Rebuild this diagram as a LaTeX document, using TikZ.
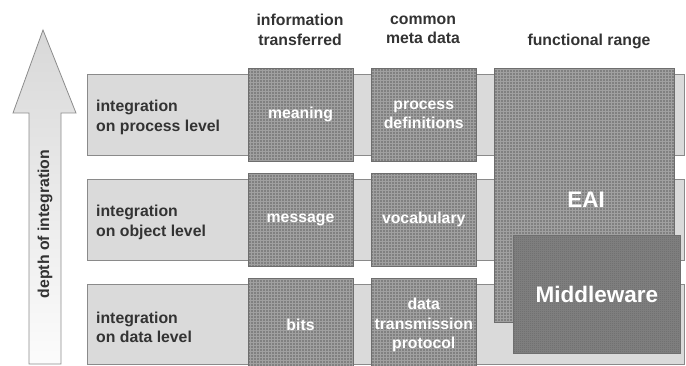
\documentclass[tikz,border=0pt]{standalone}
\usepackage{fontspec}
\setmainfont{Liberation Sans}
\definecolor{rowfill}{HTML}{DADADA}
\definecolor{rowline}{HTML}{8A8A8A}
\definecolor{hatchbase}{HTML}{808080}
\definecolor{hatchgrid}{HTML}{A0A0A0}
\definecolor{hatchline}{HTML}{6E6E6E}
\definecolor{mwbase}{HTML}{717171}
\definecolor{mwgrid}{HTML}{7E7E7E}
\definecolor{textdark}{HTML}{333333}
\definecolor{arrowtop}{HTML}{D8D8D8}
\definecolor{arrowbot}{HTML}{FCFCFC}
\definecolor{arrowline}{HTML}{8C8C8C}
\tikzset{
  rowbox/.style={draw=rowline, fill=rowfill, line width=0.8pt, inner sep=0pt, minimum width=597.5pt},
  rowlabel/.style={anchor=west, align=left, text=textdark, inner sep=0pt, font=\bfseries\fontsize{15.8}{19.5}\selectfont},
  header/.style={align=center, text=textdark, inner sep=0pt, font=\bfseries\fontsize{15.8}{19.5}\selectfont},
  hatchbox/.style={fill=hatchbase, draw=hatchline, line width=0.8pt, inner sep=0pt, text=white, align=center,
    font=\bfseries\fontsize{15.8}{19.5}\selectfont,
    path picture={\draw[hatchgrid, line width=0.7pt, step=3pt] (path picture bounding box.south west) grid (path picture bounding box.north east);}},
  mwbox/.style={fill=mwbase, draw=hatchline, line width=0.8pt, inner sep=0pt, text=white, align=center,
    font=\bfseries\fontsize{22.5}{27}\selectfont,
    path picture={\draw[mwgrid, line width=0.4pt, step=2pt] (path picture bounding box.south west) grid (path picture bounding box.north east);}},
  bigtext/.style={text=white, inner sep=0pt, font=\bfseries\fontsize{22.5}{27}\selectfont},
}
\begin{document}
\begin{tikzpicture}[x=1pt, y=-1pt]
\useasboundingbox (0,0) rectangle (686,366);
% depth arrow
\shade[top color=arrowtop, bottom color=arrowbot, draw=arrowline, line width=0.8pt]
  (43,30) -- (76,113) -- (61,113) -- (61,364) -- (29,364) -- (29,113) -- (13,113) -- cycle;
\node[header, rotate=90, font=\bfseries\fontsize{15.8}{19}\selectfont] (depth) at (45,224) {depth of integration};
% headers
\node[header] (hinfo) at (300,30) {information\\transferred};
\node[header] (hmeta) at (423,30) {common\\meta data};
\node[header] (hfunc) at (589,41) {functional range};
% rows
\node[rowbox, minimum height=81.5pt] (row1) at (385.75,114.75) {};
\node[rowbox, minimum height=81pt] (row2) at (385.75,220) {};
\node[rowbox, minimum height=80.5pt] (row3) at (385.75,324.25) {};
\node[rowlabel] (lab1) at (96,117.5) {integration\\on process level};
\node[rowlabel] (lab2) at (96,222.5) {integration\\on object level};
\node[rowlabel] (lab3) at (96,327.5) {integration\\on data level};
% info column
\node[hatchbox, minimum width=105pt, minimum height=93.5pt] (meaning) at (300.5,114.75) {meaning};
\node[hatchbox, minimum width=105pt, minimum height=93.5pt] (message) at (300.5,219.75) {message};
\node[hatchbox, minimum width=105pt, minimum height=94pt] (bits) at (300.5,325) {bits};
% meta column
\node[hatchbox, minimum width=105.5pt, minimum height=93.5pt] (procdef) at (423.75,114.75) {process\\definitions};
\node[hatchbox, minimum width=105.5pt, minimum height=93.5pt] (vocab) at (423.75,219.75) {vocabulary};
\node[hatchbox, minimum width=105.5pt, minimum height=94pt] (dtp) at (423.75,325) {data\\transmission\\protocol};
% functional range
\node[hatchbox, minimum width=179.7pt, minimum height=254.7pt] (eai) at (584.15,195.35) {};
\node[bigtext] (eaitext) at (586,200) {EAI};
\node[mwbox, minimum width=167.7pt, minimum height=118pt] (mw) at (596.85,294) {Middleware};
\end{tikzpicture}
\end{document}
